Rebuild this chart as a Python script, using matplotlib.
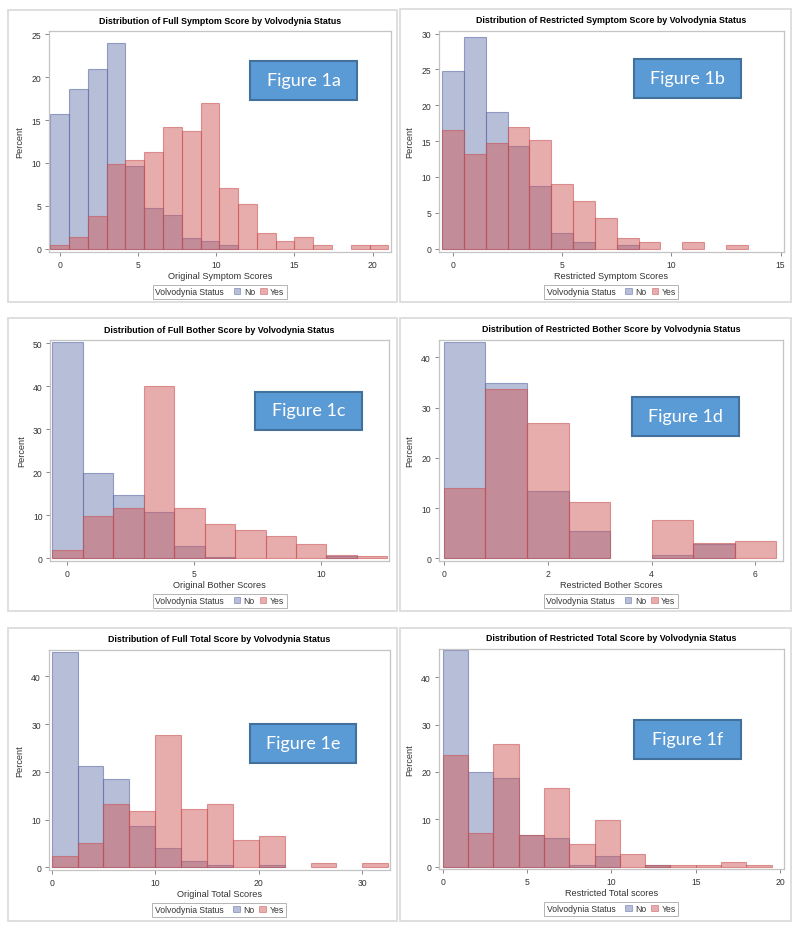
import matplotlib
matplotlib.use("Agg")
import matplotlib.pyplot as plt
from matplotlib.patches import Rectangle, Patch
from matplotlib.offsetbox import HPacker
from matplotlib.colors import to_rgba
import numpy as np

plt.rcParams['font.family'] = ['Liberation Sans', 'DejaVu Sans']

# ---------------- data (percent per bin) ----------------
# Figure 1a: Full Symptom score, bin width 1.2
sym_full_mid = [0, 1.2, 2.4, 3.6, 4.8, 6.0, 7.2, 8.4, 9.6, 10.8, 12.0, 13.2, 14.4, 15.6, 16.8, 18.0, 19.2, 20.4]
sym_full_no = [15.7, 18.6, 20.9, 23.9, 9.6, 4.8, 3.9, 1.3, 0.9, 0.5, 0, 0, 0, 0, 0, 0, 0, 0]
sym_full_yes = [0.5, 1.4, 3.8, 9.9, 10.4, 11.3, 14.2, 13.7, 17.0, 7.1, 5.2, 1.9, 0.9, 1.4, 0.5, 0, 0.5, 0.5]

# Figure 1b: Restricted Symptom score, bin width 1
sym_res_mid = [0, 1, 2, 3, 4, 5, 6, 7, 8, 9, 10, 11, 12, 13]
sym_res_no = [24.8, 29.5, 19.1, 14.3, 8.7, 2.2, 0.9, 0, 0.5, 0, 0, 0, 0, 0]
sym_res_yes = [16.6, 13.2, 14.7, 17.0, 15.1, 9.0, 6.6, 4.3, 1.5, 1.0, 0, 1.0, 0, 0.5]

# Figure 1c: Full Bother score, bin width 1.2
both_full_mid = [0, 1.2, 2.4, 3.6, 4.8, 6.0, 7.2, 8.4, 9.6, 10.8, 12.0]
both_full_no = [50.4, 19.9, 14.8, 10.9, 3.0, 0.4, 0, 0, 0, 0.5, 0]
both_full_yes = [1.9, 9.9, 11.8, 40.0, 11.8, 8.0, 6.6, 5.2, 3.3, 0.9, 0.5]

# Figure 1d: Restricted Bother score, bin width 0.8
both_res_mid = [0.4, 1.2, 2.0, 2.8, 3.6, 4.4, 5.2, 6.0]
both_res_no = [43.0, 34.9, 13.4, 5.4, 0, 0.7, 2.8, 0]
both_res_yes = [14.1, 33.6, 27.0, 11.2, 0, 7.6, 3.0, 3.5]

# Figure 1e: Full Total score, bin width 2.5
tot_full_mid = [1.25, 3.75, 6.25, 8.75, 11.25, 13.75, 16.25, 18.75, 21.25, 23.75, 26.25, 28.75, 31.25]
tot_full_no = [45.2, 21.3, 18.6, 8.7, 4.0, 1.3, 0.4, 0, 0.4, 0, 0, 0, 0]
tot_full_yes = [2.4, 5.2, 13.2, 11.8, 27.8, 12.3, 13.2, 5.7, 6.6, 0, 1.0, 0, 1.0]

# Figure 1f: Restricted Total score, bin width 1.5
tot_res_mid = [0.75, 2.25, 3.75, 5.25, 6.75, 8.25, 9.75, 11.25, 12.75, 14.25, 15.75, 17.25, 18.75]
tot_res_no = [45.7, 20.0, 18.8, 6.6, 6.1, 0.4, 2.2, 0, 0.4, 0, 0, 0, 0]
tot_res_yes = [23.6, 7.1, 25.9, 6.6, 16.5, 4.7, 9.9, 2.7, 0.4, 0.4, 0.4, 0.9, 0.4]

titles = ["Distribution of Full Symptom Score by Volvodynia Status",
          "Distribution of Restricted Symptom Score by Volvodynia Status",
          "Distribution of Full Bother Score by Volvodynia Status",
          "Distribution of Restricted Bother Score by Volvodynia Status",
          "Distribution of Full Total Score by Volvodynia Status",
          "Distribution of Restricted Total Score by Volvodynia Status"]
xlabels = ["Original Symptom Scores", "Restricted Symptom Scores",
           "Original Bother Scores", "Restricted Bother Scores",
           "Original Total Scores", "Restricted Total scores"]
fig_labels = ["Figure 1a", "Figure 1b", "Figure 1c", "Figure 1d", "Figure 1e", "Figure 1f"]
legend_title = "Volvodynia Status"
group_names = ["No", "Yes"]

# ---------------- layout (pixels) ----------------
W, H = 800, 929
fig = plt.figure(figsize=(W / 100, H / 100), dpi=100)
fig.patch.set_facecolor('white')

def fx(x):
    return x / W

def fy(y):
    return 1 - y / H

frames = [(8, 11, 397, 303), (400, 10, 791, 303),
          (8, 319, 397, 612), (400, 319, 791, 612),
          (8, 629, 397, 922), (400, 629, 791, 922)]
axboxes = [(48.7, 32, 391, 253), (438.7, 31.7, 784, 253),
           (50.3, 341, 389, 562), (438.7, 340.7, 783, 562),
           (48.7, 650.7, 389.7, 871), (438.7, 649.7, 783.7, 870)]
label_boxes = [(250, 62, 357, 101), (634, 60, 741, 99),
               (255, 393, 362, 431), (632, 398, 739, 437),
               (250, 725, 356, 764), (634, 721, 741, 760)]

specs = [
    (sym_full_mid, 1.2, sym_full_no, sym_full_yes, (-0.70, 21.17), (-0.35, 25.35), [0, 5, 10, 15, 20], [0, 5, 10, 15, 20, 25]),
    (sym_res_mid, 1.0, sym_res_no, sym_res_yes, (-0.66, 15.16), (-0.46, 30.4), [0, 5, 10, 15], [0, 5, 10, 15, 20, 25, 30]),
    (both_full_mid, 1.2, both_full_no, both_full_yes, (-0.67, 12.66), (-0.6, 50.8), [0, 5, 10], [0, 10, 20, 30, 40, 50]),
    (both_res_mid, 0.8, both_res_no, both_res_yes, (-0.1, 6.53), (-0.5, 43.5), [0, 2, 4, 6], [0, 10, 20, 30, 40]),
    (tot_full_mid, 2.5, tot_full_no, tot_full_yes, (-0.29, 32.64), (-0.56, 45.6), [0, 10, 20, 30], [0, 10, 20, 30, 40]),
    (tot_res_mid, 1.5, tot_res_no, tot_res_yes, (-0.24, 20.22), (-0.5, 46.0), [0, 5, 10, 15, 20], [0, 10, 20, 30, 40]),
]

blue = '#6f7eb3'
red = '#d05b5b'
face_no = to_rgba(blue, 0.5)
face_yes = to_rgba(red, 0.5)
edge_no = to_rgba('#5d6ca8', 0.6)
edge_yes = to_rgba('#c84e4e', 0.55)
frame_col = '#dcdcdc'
axis_col = '#c4c4c4'
text_col = '#333333'

for i, (mids, width, no, yes, xlim, ylim, xt, yt) in enumerate(specs):
    # panel frame
    l, t, r, b = frames[i]
    fig.patches.append(Rectangle((fx(l), fy(b)), fx(r) - fx(l), fy(t) - fy(b),
                                 transform=fig.transFigure, fill=False,
                                 edgecolor=frame_col, linewidth=1.3, zorder=0))
    l, t, r, b = axboxes[i]
    ax = fig.add_axes([fx(l), fy(b), fx(r) - fx(l), fy(t) - fy(b)])
    mids_a = np.array(mids, dtype=float)
    no_a = np.array(no, dtype=float)
    yes_a = np.array(yes, dtype=float)
    m = no_a > 0
    ax.bar(mids_a[m], no_a[m], width=width, facecolor=face_no, edgecolor=edge_no, linewidth=0.8, zorder=2)
    m = yes_a > 0
    ax.bar(mids_a[m], yes_a[m], width=width, facecolor=face_yes, edgecolor=edge_yes, linewidth=0.8, zorder=3)
    ax.set_xlim(*xlim)
    ax.set_ylim(*ylim)
    ax.set_xticks(xt)
    ax.set_yticks(yt)
    for s in ax.spines.values():
        s.set_color(axis_col)
        s.set_linewidth(0.9)
    ax.tick_params(axis='both', direction='out', length=3, width=0.7, color='#888888',
                   labelsize=6.2, labelcolor=text_col, pad=2.5)
    ax.set_title(titles[i], fontsize=6.4, fontweight='bold', color='black', pad=6)
    ax.set_xlabel(xlabels[i], fontsize=6.6, color=text_col, labelpad=1.5)
    ax.set_ylabel("Percent", fontsize=6.6, color=text_col, labelpad=5)

    handles = [Patch(facecolor=face_no, edgecolor=edge_no, linewidth=0.6),
               Patch(facecolor=face_yes, edgecolor=edge_yes, linewidth=0.6)]
    leg = ax.legend(handles, group_names, title=legend_title, ncol=2,
                    loc='upper center', bbox_to_anchor=(0.5, -0.148),
                    fontsize=6.2, title_fontsize=6.2, frameon=True, fancybox=False,
                    edgecolor='#b4b4b4', framealpha=1, borderpad=0.3,
                    handlelength=0.75, handleheight=0.75, handletextpad=0.4,
                    columnspacing=0.6, borderaxespad=0)
    leg.get_frame().set_linewidth(0.7)
    leg.get_title().set_color(text_col)
    for txt in leg.get_texts():
        txt.set_color(text_col)
    leg._legend_box.__class__ = HPacker
    leg._legend_box.sep = 7
    leg._legend_box.align = 'center'

    # figure label box
    l2, t2, r2, b2 = label_boxes[i]
    fig.patches.append(Rectangle((fx(l2), fy(b2)), fx(r2) - fx(l2), fy(t2) - fy(b2),
                                 transform=fig.transFigure, facecolor='#5b9bd5',
                                 edgecolor='#41719c', linewidth=1.5, zorder=5))
    fig.text((fx(l2) + fx(r2)) / 2, (fy(t2) + fy(b2)) / 2 + 0.001, fig_labels[i],
             ha='center', va='center', color='white', fontsize=13,
             family=['Lato', 'DejaVu Sans'], zorder=6)

fig.savefig("out.png", dpi=100, facecolor='white')
